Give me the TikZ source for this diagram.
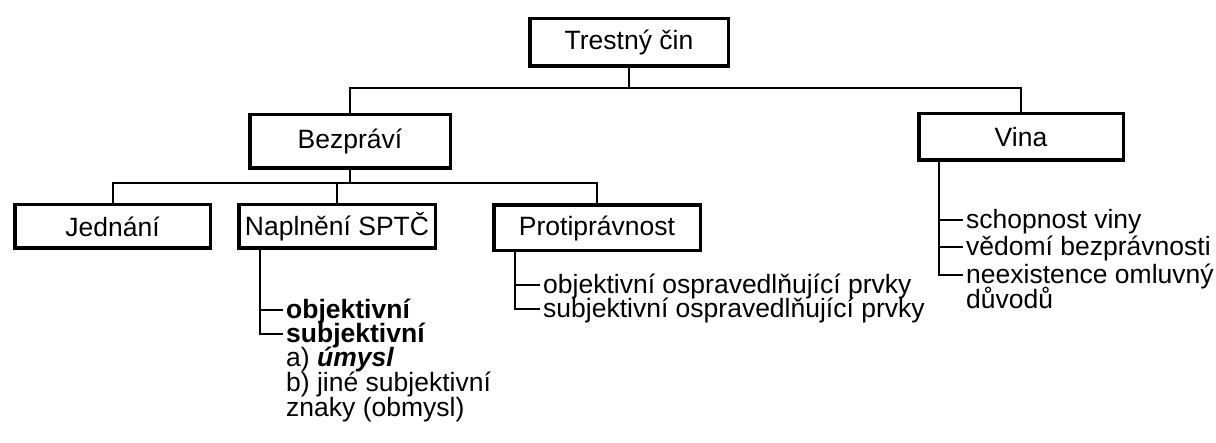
\documentclass[tikz,border=0pt]{standalone}
\usepackage{fontspec}
\setmainfont{Liberation Sans}
\newcommand\myfs{\fontsize{26.5}{26.5}\selectfont}
\begin{document}
\begin{tikzpicture}[x=1pt,y=-1pt,
  box/.style={draw,line width=3.5pt,inner sep=0pt,font=\myfs},
  conn/.style={line width=2pt},
  item/.style={anchor=base west,inner sep=0pt,font=\myfs}]
\useasboundingbox (0,0) rectangle (1216,443);
% boxes
\node[box,minimum width=198.5pt,minimum height=47.5pt] (tc) at (629,42.5) {Trestný čin};
\node[box,minimum width=200.5pt,minimum height=53.5pt] (bez) at (350,141.5) {Bezpráví};
\node[box,minimum width=204.5pt,minimum height=46.5pt] (vina) at (1021,137) {Vina};
\node[box,minimum width=195.5pt,minimum height=43.5pt] (jed) at (112.5,226.5) {Jednání};
\node[box,minimum width=196.5pt,minimum height=43.5pt] (nap) at (337,226.5) {Naplnění SPTČ};
\node[box,minimum width=206.5pt,minimum height=45.5pt] (pro) at (597,228) {Protiprávnost};
% level lines
\coordinate (hA) at (0,88);
\coordinate (hB) at (0,183);
\draw[conn] (tc.south) -- (tc.south |- hA);
\draw[conn] (bez.north) -- (bez.north |- hA) -- (vina.north |- hA) -- (vina.north);
\draw[conn] (bez.south) -- (bez.south |- hB);
\draw[conn] (jed.north) -- (jed.north |- hB) -- (pro.north |- hB) -- (pro.north);
\draw[conn] (nap.north) -- (nap.north |- hB);
% Naplneni list
\node[item] (n1) at (286,319) {\textbf{objektivní}};
\node[item] (n2) at (286,343) {\textbf{subjektivní}};
\node[item] (n3) at (286,367) {a) \textbf{\textit{úmysl}}};
\node[item] (n4) at (286,392) {b) jiné subjektivní};
\node[item] (n5) at (286,417) {znaky (obmysl)};
\coordinate (spN) at (260,0);
\coordinate (n1t) at ([xshift=-3pt,yshift=9pt]n1.base west);
\coordinate (n2t) at ([xshift=-3pt,yshift=9pt]n2.base west);
\draw[conn] (spN |- nap.south) |- (n2t);
\draw[conn] (spN |- n1t) -- (n1t);
% Protipravnost list
\node[item] (p1) at (543,294) {objektivní ospravedlňující prvky};
\node[item] (p2) at (543,318) {subjektivní ospravedlňující prvky};
\coordinate (spP) at (515,0);
\coordinate (p1t) at ([xshift=-3pt,yshift=9pt]p1.base west);
\coordinate (p2t) at ([xshift=-3pt,yshift=9pt]p2.base west);
\draw[conn] (spP |- pro.south) |- (p2t);
\draw[conn] (spP |- p1t) -- (p1t);
% Vina list
\node[item] (v1) at (966,229) {schopnost viny};
\node[item] (v2) at (966,256) {vědomí bezprávnosti};
\node[item] (v3) at (966,284) {neexistence omluvný};
\node[item] (v4) at (966,309) {důvodů};
\coordinate (spV) at (939,0);
\coordinate (v1t) at ([xshift=-3pt,yshift=9pt]v1.base west);
\coordinate (v2t) at ([xshift=-3pt,yshift=9pt]v2.base west);
\coordinate (v3t) at ([xshift=-3pt,yshift=9pt]v3.base west);
\draw[conn] (spV |- vina.south) |- (v3t);
\draw[conn] (spV |- v1t) -- (v1t);
\draw[conn] (spV |- v2t) -- (v2t);
\end{tikzpicture}
\end{document}
